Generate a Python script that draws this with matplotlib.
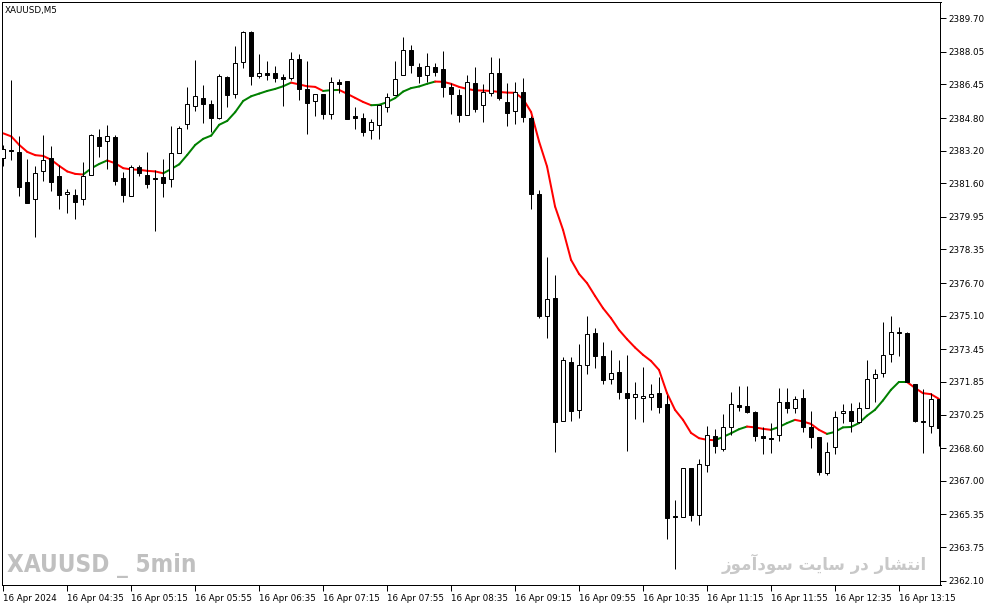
import numpy as np
import matplotlib.pyplot as plt
from matplotlib import font_manager
from matplotlib.collections import LineCollection

# XAUUSD M5 candles, 03:55 .. 13:40 on 16 Apr 2024
opens = [2382.83, 2383.22, 2383.14, 2381.67, 2380.82, 2382.19, 2382.83, 2381.96, 2381.06, 2381.02,
         2380.82, 2382.00, 2383.86, 2383.67, 2383.86, 2381.85, 2380.98, 2382.39, 2382.00, 2381.85,
         2381.90, 2381.80, 2383.08, 2384.50, 2385.40, 2385.78, 2385.48, 2384.82, 2386.81, 2385.97,
         2387.54, 2389.01, 2386.88, 2387.00, 2387.00, 2386.81, 2386.76, 2387.69, 2386.22, 2385.63,
         2385.99, 2384.99, 2386.58, 2386.62, 2384.89, 2384.81, 2384.21, 2384.45, 2385.33, 2385.92,
         2386.90, 2388.13, 2387.30, 2386.90, 2387.30, 2387.20, 2386.32, 2385.92, 2384.94, 2386.53,
         2385.43, 2386.02, 2387.00, 2385.59, 2385.13, 2386.07, 2384.79, 2381.06, 2375.08, 2375.96,
         2369.91, 2372.82, 2370.45, 2372.67, 2374.24, 2373.11, 2371.99, 2372.33, 2371.30, 2371.10,
         2371.05, 2371.10, 2371.30, 2370.77, 2365.29, 2365.24, 2367.62, 2365.34, 2367.77, 2369.19,
         2368.55, 2369.63, 2370.71, 2370.66, 2370.37, 2369.19, 2369.10, 2369.24, 2370.86, 2370.56,
         2371.05, 2369.66, 2369.15, 2367.40, 2368.65, 2370.32, 2370.42, 2369.88, 2370.59, 2372.03,
         2372.28, 2373.21, 2374.29, 2374.26, 2371.74, 2369.93, 2369.69, 2371.00]
highs = [2383.48, 2386.67, 2383.93, 2382.78, 2382.45, 2383.98, 2383.44, 2382.50, 2381.31, 2381.31,
         2382.65, 2384.01, 2384.28, 2384.47, 2383.96, 2382.17, 2382.49, 2382.50, 2383.11, 2382.26,
         2382.80, 2384.42, 2384.42, 2386.33, 2387.66, 2386.43, 2385.69, 2386.97, 2386.87, 2388.34,
         2389.08, 2389.08, 2387.95, 2387.61, 2387.35, 2386.95, 2388.05, 2387.95, 2387.61, 2385.97,
         2385.99, 2386.82, 2386.74, 2386.62, 2385.33, 2385.07, 2384.76, 2385.46, 2386.02, 2387.59,
         2388.80, 2388.39, 2387.49, 2387.98, 2387.49, 2388.08, 2386.54, 2386.22, 2386.92, 2387.30,
         2386.46, 2387.82, 2387.74, 2386.51, 2386.56, 2386.76, 2384.91, 2381.28, 2377.99, 2377.10,
         2373.07, 2373.07, 2373.70, 2375.08, 2374.49, 2373.80, 2373.41, 2372.93, 2373.16, 2371.84,
         2372.58, 2371.74, 2372.07, 2371.22, 2366.06, 2367.62, 2367.62, 2368.09, 2369.68, 2369.53,
         2370.27, 2371.35, 2371.64, 2371.64, 2370.42, 2369.63, 2369.83, 2371.54, 2371.54, 2371.15,
         2371.50, 2370.43, 2369.15, 2368.91, 2370.43, 2370.76, 2370.81, 2370.89, 2372.93, 2372.48,
         2374.78, 2375.09, 2374.54, 2374.29, 2371.74, 2371.50, 2371.30, 2371.00]
lows = [2382.47, 2382.75, 2380.98, 2380.65, 2378.94, 2381.73, 2381.24, 2380.36, 2380.13, 2379.84,
        2380.51, 2382.00, 2382.91, 2382.32, 2381.52, 2380.69, 2380.98, 2381.98, 2381.37, 2379.28,
        2380.95, 2381.44, 2383.08, 2384.28, 2385.15, 2384.58, 2384.12, 2384.73, 2385.36, 2385.76,
        2387.28, 2386.43, 2386.79, 2386.69, 2386.59, 2385.41, 2386.69, 2385.68, 2384.04, 2384.92,
        2384.73, 2384.74, 2386.02, 2384.74, 2384.25, 2383.93, 2383.76, 2383.76, 2385.12, 2385.92,
        2386.90, 2387.03, 2386.54, 2386.59, 2386.87, 2385.81, 2384.99, 2384.63, 2384.94, 2385.10,
        2384.63, 2385.90, 2385.68, 2384.43, 2384.50, 2384.63, 2380.36, 2375.01, 2374.03, 2368.43,
        2369.91, 2369.95, 2370.10, 2372.26, 2372.51, 2371.77, 2371.77, 2370.99, 2368.48, 2370.04,
        2369.86, 2370.49, 2370.35, 2364.16, 2362.69, 2365.24, 2365.05, 2364.85, 2367.42, 2368.35,
        2368.45, 2369.24, 2370.42, 2370.33, 2368.94, 2368.31, 2368.35, 2368.94, 2370.32, 2370.32,
        2369.41, 2368.63, 2367.26, 2367.30, 2368.29, 2369.83, 2369.37, 2369.83, 2370.59, 2370.89,
        2372.08, 2372.85, 2373.10, 2371.87, 2369.88, 2368.38, 2369.35, 2368.71]
closes = [2383.27, 2383.18, 2381.44, 2380.65, 2382.09, 2382.73, 2381.68, 2381.00, 2381.18, 2380.70,
          2381.95, 2383.96, 2383.45, 2383.91, 2381.73, 2381.00, 2382.39, 2382.09, 2381.54, 2381.80,
          2381.63, 2383.08, 2384.30, 2385.48, 2385.87, 2385.51, 2384.82, 2386.87, 2385.95, 2387.49,
          2389.01, 2386.88, 2387.00, 2386.93, 2386.79, 2386.74, 2387.69, 2386.22, 2385.56, 2385.97,
          2385.02, 2386.56, 2386.46, 2384.76, 2384.82, 2384.14, 2384.60, 2385.43, 2385.83, 2386.71,
          2388.13, 2387.39, 2386.88, 2387.35, 2387.08, 2386.32, 2386.00, 2384.97, 2386.56, 2385.26,
          2386.07, 2387.00, 2385.76, 2385.04, 2386.07, 2384.84, 2381.06, 2375.09, 2375.91, 2369.86,
          2372.92, 2370.40, 2372.67, 2374.19, 2373.10, 2371.97, 2372.31, 2371.38, 2371.08, 2371.25,
          2371.15, 2371.25, 2370.64, 2365.19, 2365.24, 2367.62, 2365.34, 2367.81, 2369.24, 2368.70,
          2369.63, 2370.76, 2370.61, 2370.38, 2369.19, 2369.09, 2369.07, 2370.86, 2370.56, 2371.00,
          2369.66, 2369.17, 2367.45, 2368.40, 2370.15, 2370.42, 2369.91, 2370.56, 2371.99, 2372.23,
          2373.16, 2374.29, 2374.26, 2371.87, 2369.91, 2369.86, 2371.00, 2369.60]

# colour-changing moving average
ma = [2384.05, 2383.90, 2383.48, 2383.14, 2382.98, 2382.94, 2382.75, 2382.45, 2382.18, 2382.06,
      2382.03, 2382.33, 2382.55, 2382.72, 2382.58, 2382.34, 2382.28, 2382.26, 2382.21, 2382.18,
      2382.09, 2382.30, 2382.53, 2382.99, 2383.48, 2383.78, 2383.94, 2384.47, 2384.66, 2385.09,
      2385.64, 2385.87, 2386.00, 2386.13, 2386.23, 2386.36, 2386.54, 2386.45, 2386.36, 2386.33,
      2386.13, 2386.17, 2386.18, 2385.99, 2385.79, 2385.59, 2385.43, 2385.45, 2385.58, 2385.78,
      2386.10, 2386.27, 2386.35, 2386.48, 2386.59, 2386.58, 2386.48, 2386.33, 2386.23, 2386.16,
      2386.15, 2386.13, 2386.08, 2386.05, 2386.04, 2385.74, 2385.10, 2383.65, 2382.42, 2380.46,
      2379.31, 2377.84, 2377.15, 2376.70, 2376.07, 2375.47, 2374.98, 2374.40, 2373.95, 2373.54,
      2373.18, 2372.88, 2372.44, 2371.30, 2370.48, 2369.99, 2369.35, 2369.09, 2369.01, 2368.99,
      2369.15, 2369.33, 2369.53, 2369.66, 2369.62, 2369.55, 2369.50, 2369.64, 2369.83, 2369.99,
      2369.91, 2369.79, 2369.50, 2369.30, 2369.40, 2369.62, 2369.64, 2369.83, 2370.19, 2370.48,
      2370.94, 2371.46, 2371.85, 2371.85, 2371.56, 2371.30, 2371.25, 2371.02]

time_labels = ['16 Apr 2024', '16 Apr 04:35', '16 Apr 05:15', '16 Apr 05:55', '16 Apr 06:35',
               '16 Apr 07:15', '16 Apr 07:55', '16 Apr 08:35', '16 Apr 09:15', '16 Apr 09:55',
               '16 Apr 10:35', '16 Apr 11:15', '16 Apr 11:55', '16 Apr 12:35', '16 Apr 13:15']
price_labels = ['2389.70', '2388.05', '2386.45', '2384.80', '2383.20', '2381.60', '2379.95',
                '2378.35', '2376.70', '2375.10', '2373.45', '2371.85', '2370.25', '2368.60',
                '2367.00', '2365.35', '2363.75', '2362.10']

# "انتشار در سایت سودآموز" written in presentation forms, visual order
site_text = ('\ufeaf\ufeee\ufee3\ufe81\ufea9\ufeee\ufeb3 '
             '\ufe96\ufbfe\ufe8e\ufeb3 '
             '\ufead\ufea9 '
             '\ufead\ufe8e\ufeb8\ufe98\ufee7\ufe8d')


def narrow_bold_font():
    # look for a condensed / narrow bold face for the watermark
    for f in font_manager.fontManager.ttflist:
        fn = f.fname.lower()
        if ('narrow' in fn or 'condensed' in fn) and 'bold' in fn and 'italic' not in fn \
                and 'oblique' not in fn:
            return font_manager.FontProperties(fname=f.fname)
    return None


W, H = 987, 605
fig = plt.figure(figsize=(W / 100, H / 100), dpi=100)
ax = fig.add_axes([2 / W, (H - 584.5) / H, 938.5 / W, 583 / H])

o = np.array(opens)
c = np.array(closes)
x = np.arange(len(o))
px = 0.72  # one pixel in points

# moving average, green when rising, red when falling
m = np.array(ma)
pts = np.column_stack([x, m])
segs = np.stack([pts[:-1], pts[1:]], axis=1)
seg_cols = ['#008000' if m[i + 1] >= m[i] else '#ff0000' for i in range(len(m) - 1)]
lc = LineCollection(segs, colors=seg_cols, linewidths=2 * px, capstyle='round', zorder=1)
ax.add_collection(lc)

# wicks and bodies
ax.vlines(x, lows, highs, color='black', linewidth=px, zorder=2)
up = c >= o
body_bottom = np.minimum(o, c)
body_h = np.abs(c - o)
ax.bar(x, body_h, bottom=body_bottom, width=0.52,
       color=np.where(up, 'white', 'black'), edgecolor='black', linewidth=px, zorder=3)

ax.set_xlim(-0.16, 117.2)
ax.set_ylim(2361.91, 2390.52)

ax.yaxis.tick_right()
ax.set_yticks([float(v) for v in price_labels])
ax.set_yticklabels(price_labels)
ax.set_xticks(np.arange(0, 8 * len(time_labels), 8))
ax.set_xticklabels(time_labels, ha='left')
ax.tick_params(axis='both', direction='out', length=4, width=px, labelsize=6.3,
               colors='black', pad=2)
ax.tick_params(axis='x', pad=3)
for sp in ax.spines.values():
    sp.set_linewidth(px)
    sp.set_color('black')

fig.text(5 / W, 1 - 11 / H, 'XAUUSD,M5', fontsize=6.3, va='center', ha='left')

fp = narrow_bold_font()
if fp is not None:
    fp.set_size(17.5)
    fig.text(7 / W, 1 - 566 / H, 'XAUUSD _ 5min', fontproperties=fp, color='#c0c0c0',
             va='center', ha='left')
else:
    fig.text(7 / W, 1 - 566 / H, 'XAUUSD _ 5min', fontsize=16, fontweight='bold',
             family='Liberation Sans', color='#c0c0c0', va='center', ha='left')

fig.text(927 / W, 1 - 564 / H, site_text, fontsize=12, fontweight='bold',
         family=['DejaVu Sans'], color='#c8c8c8', va='center', ha='right')

fig.savefig('out.png', dpi=100)
